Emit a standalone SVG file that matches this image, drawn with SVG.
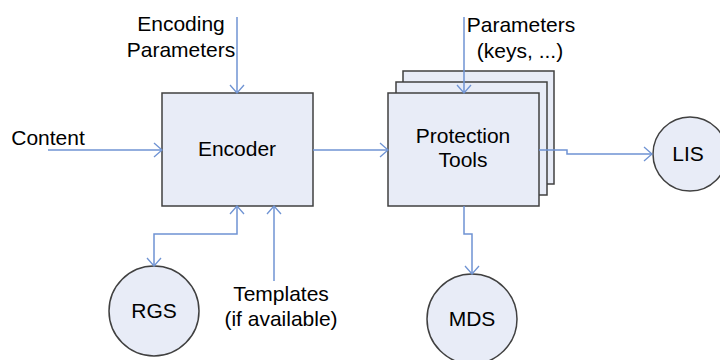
<svg xmlns="http://www.w3.org/2000/svg" width="720" height="360" viewBox="0 0 720 360">
<defs>
<marker id="arr" viewBox="0 0 10 16" refX="9" refY="8" markerWidth="10" markerHeight="16" markerUnits="userSpaceOnUse" orient="auto-start-reverse">
<path d="M1,1 L9,8 L1,15" fill="none" stroke="#6f93d3" stroke-width="1.3"/>
</marker>
<style>
.box{fill:#e8ecf7;stroke:#404040;stroke-width:1.5}
.t{font-family:"Liberation Sans",Arial,sans-serif;font-size:21px;fill:#000;text-anchor:middle}
.c{fill:none;stroke:#6f93d3;stroke-width:1.5;marker-end:url(#arr)}
</style>
</defs>
<rect width="720" height="360" fill="#fff"/>
<g id="encoder">
<rect class="box" x="162" y="93" width="151" height="113"/>
<text class="t" x="237" y="156">Encoder</text>
</g>
<g id="protection">
<rect class="box" x="403" y="71" width="151" height="113"/>
<rect class="box" x="396" y="82" width="151" height="113"/>
<rect class="box" x="388" y="93" width="151" height="113"/>
<text class="t" x="463" y="143">Protection</text>
<text class="t" x="463" y="167">Tools</text>
</g>
<g id="lis">
<circle class="box" cx="690" cy="154" r="37"/>
<text class="t" x="688" y="161">LIS</text>
</g>
<g id="mds">
<circle class="box" cx="472" cy="319" r="45"/>
<text class="t" x="472" y="326">MDS</text>
</g>
<g id="rgs">
<circle class="box" cx="154" cy="311" r="45"/>
<text class="t" x="154" y="318">RGS</text>
</g>
<g id="labels">
<text class="t" x="181" y="31">Encoding</text>
<text class="t" x="181" y="57">Parameters</text>
<text class="t" x="48" y="145">Content</text>
<text class="t" x="521" y="32">Parameters</text>
<text class="t" x="520" y="58">(keys, ...)</text>
<text class="t" x="281" y="301">Templates</text>
<text class="t" x="281" y="326">(if available)</text>
</g>
<g id="connectors">
<path class="c" d="M237,17 V93"/>
<path class="c" d="M48,150 H162"/>
<path class="c" d="M313,150 H388"/>
<path class="c" d="M464,17 V93"/>
<path class="c" d="M539,150 H567 V154 H652"/>
<path class="c" d="M464,206 V234 H472 V274"/>
<path class="c" d="M237,206 V234 H154 V266" style="marker-start:url(#arr)"/>
<path class="c" d="M274,281 V206"/>
</g>
</svg>
